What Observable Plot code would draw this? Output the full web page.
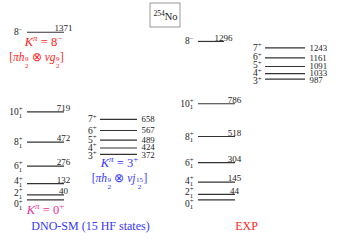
<!DOCTYPE html>
<html><head><meta charset="utf-8">
<script src="https://cdn.jsdelivr.net/npm/d3@7"></script>
<script src="https://cdn.jsdelivr.net/npm/@observablehq/plot@0.6"></script>
<style>body{margin:0;background:#fff}svg text{white-space:pre}</style>
</head><body><div id="chart"></div>
<script>
// ---- data ----
const gsSpins = ["0_1^+", "2_1^+", "4_1^+", "6_1^+", "8_1^+", "10_1^+"];
const dnoGsE = [0, 40, 132, 276, 472, 719];
const expGsE = [0, 44, 145, 304, 518, 786];
const k3Spins = ["3^+", "4^+", "5^+", "6^+", "7^+"];
const dnoK3E = [372, 424, 489, 567, 658];
const expK3E = [987, 1033, 1091, 1161, 1243];
const k8Spins = ["8^-"];
const dnoK8E = [1371];
const expK8E = [1296];
const titleText = "^{254}No";
const modelLabels = ["DNO-SM (15 HF states)", "EXP"];
const bandLabels = ["K^π = 0^+", "K^π = 3^+", "K^π = 8^-"];
const configLabels = ["[πh\\frac{9}{2} ⊗ νj\\frac{15}{2}]", "[πh\\frac{9}{2} ⊗ νg\\frac{9}{2}]"];

// ---- layout ----
const FAMILY = '"Liberation Serif", "Times New Roman", serif';
const columns = {
  dnoG:  {x1: 27,  x2: 64,  val: "above", gap: 5, minGap: 11.5},
  dnoK8: {x1: 27,  x2: 64,  val: "above", gap: 5, minGap: 11.5},
  dnoK3: {x1: 100, x2: 137, val: "right", gap: 4, minGap: 8},
  expG:  {x1: 198, x2: 235, val: "above", gap: 5, minGap: 11.5},
  expK8: {x1: 198, x2: 224, val: "above", gap: 5, minGap: 11.5},
  expK3: {x1: 265, x2: 305, val: "right", gap: 4, minGap: 8}
};
const yOpts = {domain: [-333, 1631], range: [240, 0]};
const yScale = Plot.scale({y: yOpts});

function band(col, spins, energies) {
  return energies.map((E, i) => ({col, spin: spins[i], E}));
}
const groups = [
  band("dnoG", gsSpins, dnoGsE), band("dnoK3", k3Spins, dnoK3E), band("dnoK8", k8Spins, dnoK8E),
  band("expG", gsSpins, expGsE), band("expK3", k3Spins, expK3E), band("expK8", k8Spins, expK8E)
];
// label de-overlap per band (pixel space), then back to data units
function spread(py, mg) {
  for (let it = 0; it < 200; it++) {
    for (let i = 1; i < py.length; i++) {
      const gap = py[i - 1] - py[i];
      if (gap < mg) { const s = (mg - gap) / 2; py[i - 1] += s; py[i] -= s; }
    }
  }
  return py;
}
groups.forEach(g => {
  const mg = columns[g[0].col].minGap;
  const py = spread(g.map(d => yScale.apply(d.E)), mg);
  const pv = spread(g.map(d => yScale.apply(d.E)), 7.4);
  g.forEach((d, i) => { d.labelE = yScale.invert(py[i]); d.valueE = yScale.invert(pv[i]); });
});
const levels = groups.flat();
const X1 = d => columns[d.col].x1, X2 = d => columns[d.col].x2;

function note(text, x, y, fill, size) {
  return Plot.text([text], {text: d => d, frameAnchor: "top-left", dx: x, dy: y,
    textAnchor: "middle", lineAnchor: "middle", fill, fontSize: size});
}
const RED = "#ff2222", BLUE = "#3535ff", PINK = "#f0309a", INK = "#222";

const chart = Plot.plot({
  width: 338, height: 240, margin: 0,
  x: {domain: [0, 338], range: [0, 338], axis: null},
  y: {...yOpts, axis: null},
  style: {fontFamily: FAMILY, background: "#fff", overflow: "visible"},
  marks: [
    Plot.ruleY(levels, {y: "E", x1: X1, x2: X2, stroke: "#333", strokeWidth: 1.2}),
    Plot.text(levels, {x: d => X1(d) - columns[d.col].gap, y: "labelE", text: "spin",
      textAnchor: "end", fill: INK, fontSize: 9.5}),
    Plot.text(levels.filter(d => d.E > 0 && columns[d.col].val === "above"),
      {x: d => X2(d) - 1, y: "E", text: d => String(d.E), textAnchor: "middle", dy: -3.8, fill: INK, fontSize: 9}),
    Plot.text(levels.filter(d => columns[d.col].val === "right"),
      {x: d => X2(d) + 4, y: "valueE", text: d => String(d.E), textAnchor: "start", fill: INK, fontSize: 8.8}),
    Plot.rect([0], {x1: 150, x2: 180, y1: yScale.invert(27), y2: yScale.invert(3), fill: "none", stroke: "#999"}),
    note(titleText, 165, 16, INK, 10.5),
    note(bandLabels[2], 43, 41, RED, 12.5),
    note(configLabels[1], 36, 57, RED, 11.5),
    note(bandLabels[1], 119, 162, BLUE, 12.5),
    note(configLabels[0], 119, 178, BLUE, 11.5),
    note(bandLabels[0], 45, 209, PINK, 12.5),
    note(modelLabels[0], 90, 226, BLUE, 12),
    note(modelLabels[1], 246, 226, RED, 12)
  ]
});
document.getElementById("chart").append(chart);

// ---- rich text (super/subscripts, small fractions) ----
const ctx = document.createElement("canvas").getContext("2d");
function measure(t, size, italic) { ctx.font = `${italic ? "italic " : ""}${size}px ${FAMILY}`; return ctx.measureText(t).width; }
function parse(s) {
  const segs = []; let i = 0, buf = "";
  const flush = () => { if (buf) { segs.push({k: "base", t: buf}); buf = ""; } };
  const arg = () => { if (s[i] === "{") { const j = s.indexOf("}", i); const a = s.slice(i + 1, j); i = j + 1; return a; } return s[i++]; };
  while (i < s.length) {
    const c = s[i];
    if (c === "^" || c === "_") { flush(); i++; segs.push({k: c === "^" ? "sup" : "sub", t: arg()}); }
    else if (s.startsWith("\\frac", i)) { flush(); i += 5; const n = arg(); const d = arg(); segs.push({k: "frac", n, d}); }
    else { buf += c; i++; }
  }
  flush(); return segs;
}
const LET = /[A-Za-zα-ωΑ-Ω]/;
function richify(el) {
  const s = el.textContent;
  if (!/[\^_]|\\frac/.test(s)) return;
  const F = parseFloat(getComputedStyle(el).fontSize) || 10;
  const math = /^(K|\[)/.test(s);
  const segs = parse(s);
  el.textContent = "";
  const sel = d3.select(el);
  let off = 0, pend = 0;
  const span = (t, size, target, dx, italic) => {
    const ts = sel.append("tspan").text(t);
    if (size !== F) ts.attr("font-size", size.toFixed(2));
    const dy = target - off; if (Math.abs(dy) > 1e-6) ts.attr("dy", dy.toFixed(2)); off = target;
    if (dx) ts.attr("dx", dx.toFixed(2));
    if (italic) ts.attr("font-style", "italic");
  };
  for (let j = 0; j < segs.length; j++) {
    const g = segs[j];
    if (g.k === "base") {
      const runs = math ? g.t.match(/[A-Za-zα-ωΑ-Ω]+|[^A-Za-zα-ωΑ-Ω]+/g) : [g.t];
      runs.forEach((r, ri) => span(r, F, 0, ri === 0 ? pend : 0, math && LET.test(r)));
      pend = 0;
    } else if (g.k === "sup" || g.k === "sub") {
      const S = 0.72 * F;
      const t = g.t.replace(/-/g, "−");
      const it = math && LET.test(t);
      const w = measure(t, S, it);
      span(t, S, g.k === "sup" ? -0.4 * F : 0.28 * F, pend, it); pend = 0;
      const nx = segs[j + 1];
      if (nx && (nx.k === "sup" || nx.k === "sub") && nx.k !== g.k) {
        const t2 = nx.t.replace(/-/g, "−");
        const w2 = measure(t2, S, false);
        span(t2, S, nx.k === "sup" ? -0.4 * F : 0.28 * F, -w, false);
        pend = Math.max(0, w - w2); j++;
      }
    } else if (g.k === "frac") {
      const S = 0.62 * F;
      const wn = measure(g.n, S), wd = measure(g.d, S), W = Math.max(wn, wd);
      span(g.n, S, -0.02 * F, pend + (W - wn) / 2 + 0.4, false);
      span(g.d, S, 0.55 * F, -(wn + (W - wn) / 2) + (W - wd) / 2, false);
      pend = (W - wd) / 2 + 0.4;
    }
  }
}
d3.select(chart).selectAll("text").each(function () { richify(this); });
</script>
</body></html>
